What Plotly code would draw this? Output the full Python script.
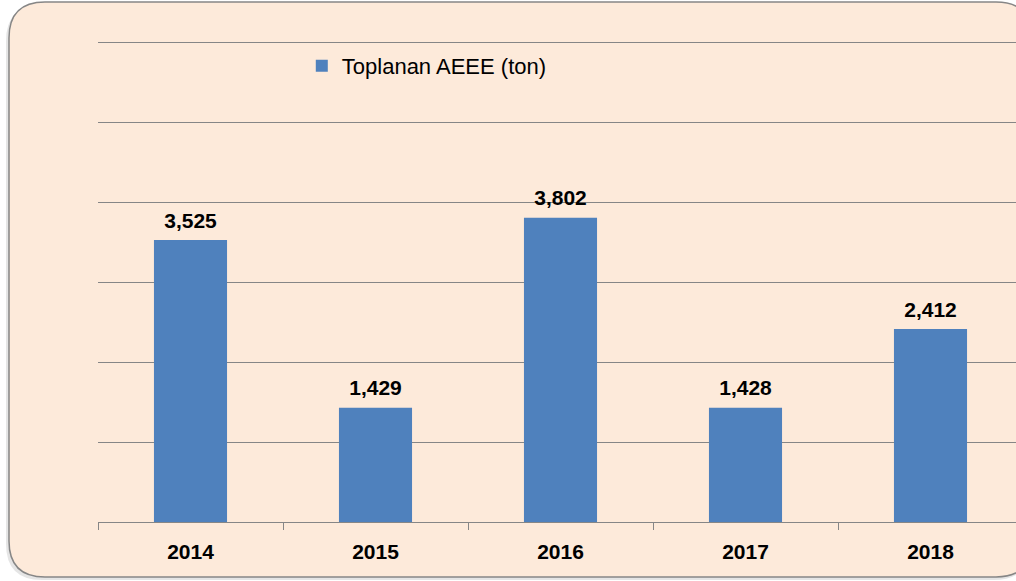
import plotly.graph_objects as go

years = ["2014", "2015", "2016", "2017", "2018"]
values = [3525, 1429, 3802, 1428, 2412]
series_name = "Toplanan AEEE (ton)"

W, H = 1016, 581
Y_MAX = 6050
L, R, B = 98, 0, 59
PX_PER_UNIT = 0.08
T = int(round(H - B - Y_MAX * PX_PER_UNIT))
pw, ph = W - L - R, H - T - B

def px_to_paper(x, y):
    return (x - L) / pw, (H - B - y) / ph

def rounded_path(x0, y0, x1, y1, r):
    pts = [
        ("M", [(x0 + r, y0)]),
        ("L", [(x1 - r, y0)]),
        ("Q", [(x1, y0), (x1, y0 + r)]),
        ("L", [(x1, y1 - r)]),
        ("Q", [(x1, y1), (x1 - r, y1)]),
        ("L", [(x0 + r, y1)]),
        ("Q", [(x0, y1), (x0, y1 - r)]),
        ("L", [(x0, y0 + r)]),
        ("Q", [(x0, y0), (x0 + r, y0)]),
    ]
    s = ""
    for cmd, ps in pts:
        s += cmd + " ".join("%.5f,%.5f" % px_to_paper(*p) for p in ps) + " "
    return s + "Z"

label_font = dict(family="Liberation Sans", size=21, color="black", weight="bold")

fig = go.Figure()
fig.add_trace(go.Bar(
    x=years, y=values, name=series_name,
    marker=dict(color="#4F81BD", line=dict(width=0)),
    hoverinfo="skip",
))
fig.add_trace(go.Scatter(
    x=years, y=values, mode="markers+text",
    text=[f"{v:,}" for v in values], textposition="top center",
    textfont=label_font,
    marker=dict(size=10, opacity=0),
    showlegend=False, cliponaxis=False, hoverinfo="skip",
))

fig.update_layout(
    width=W, height=H,
    margin=dict(l=L, r=R, t=T, b=B, pad=0),
    paper_bgcolor="white",
    plot_bgcolor="rgba(0,0,0,0)",
    bargap=0.605,
    showlegend=True,
    legend=dict(
        x=0.222, y=1 - (66 - T) / ph, xanchor="left", yanchor="middle",
        bgcolor="rgba(0,0,0,0)",
        font=dict(family="Liberation Sans", size=22, color="black"),
    ),
    xaxis=dict(
        type="category",
        range=[-0.5, -0.5 + pw / 185.0],
        showline=True, linecolor="#868686", linewidth=1,
        ticks="outside", tickson="boundaries", ticklen=7, tickcolor="#868686",
        tickfont=label_font,
        ticklabelstandoff=11,
        showgrid=False,
    ),
    yaxis=dict(
        range=[0, Y_MAX], dtick=1000,
        showgrid=True, gridcolor="#868686", gridwidth=1,
        showticklabels=False, zeroline=False, showline=False,
    ),
    shapes=[
        dict(type="path", xref="paper", yref="paper", layer="below",
             path=rounded_path(6, 5, 1030, 580, 36),
             fillcolor="rgba(0,0,0,0.10)", line=dict(width=0)),
        dict(type="path", xref="paper", yref="paper", layer="below",
             path=rounded_path(9, 2, 1032, 577, 36),
             fillcolor="#FDEADA", line=dict(color="#868686", width=1.5)),
    ],
)

fig.write_html("out.html", config={"displayModeBar": False},
               post_script="document.body.style.margin='0';document.body.style.overflow='hidden';")
